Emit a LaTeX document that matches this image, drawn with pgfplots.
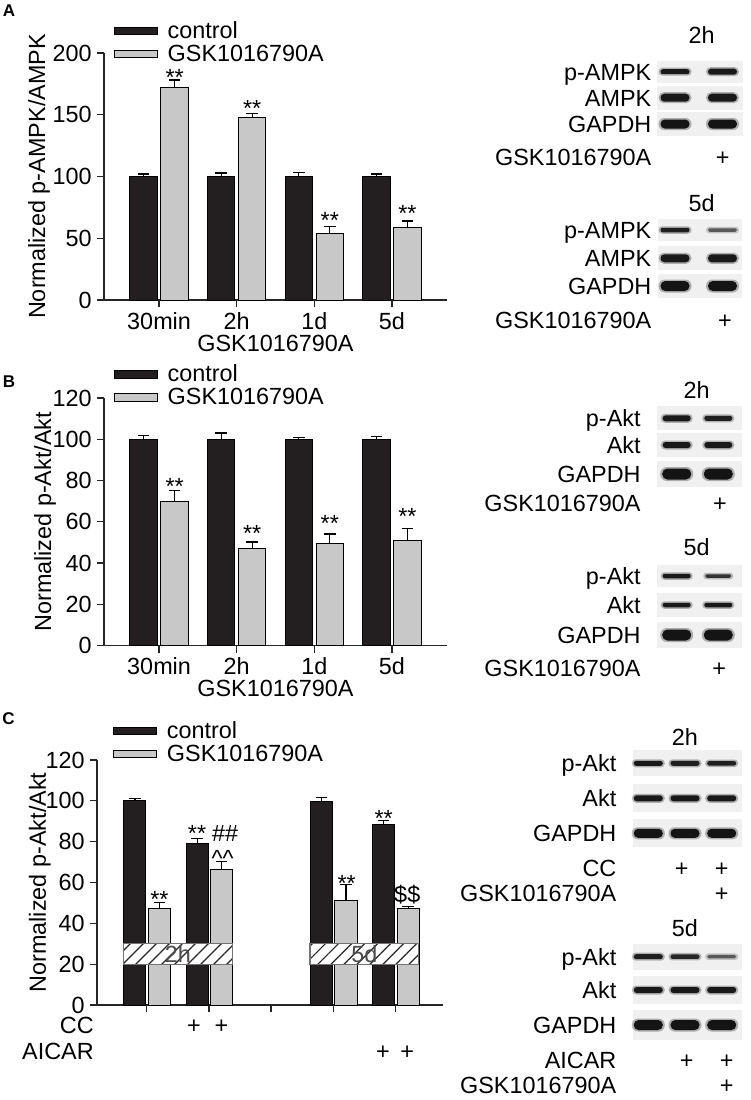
\documentclass[border=0pt]{standalone}
\usepackage{pgfplots}
\pgfplotsset{compat=1.18}
\usepackage{fontspec}
\setmainfont{Liberation Sans}
\usetikzlibrary{patterns.meta}
\definecolor{ctl}{RGB}{35,31,32}
\definecolor{gsk}{RGB}{200,200,200}
\definecolor{blotbg}{RGB}{240,240,240}
\newcommand\fs{\fontsize{11.7}{14}\selectfont}
\newcommand\band[5]{%
  \pgfmathsetmacro\rA{(#4+3)*0.24}%
  \pgfmathsetmacro\rB{#4*0.24}%
  \fill[#5, opacity=0.3, rounded corners=\rA pt] ({#1-#3/2-2},{#2-#4/2-1.5}) rectangle ({#1+#3/2+2},{#2+#4/2+1.5});
  \fill[#5, rounded corners=\rB pt] ({#1-#3/2},{#2-#4/2}) rectangle ({#1+#3/2},{#2+#4/2});
}
\newcommand\rlab[3]{\node[anchor=base east, inner sep=0pt] at (#1,{#2+8.4}) {#3};}
\newcommand\clab[3]{\node[anchor=base, inner sep=0pt] at (#1,{#2+8.4}) {#3};}
\newcommand\bg[4]{\fill[blotbg] (#1,{#3-#4/2}) rectangle (#2,{#3+#4/2});}
\pgfplotsset{
  panel/.style={
    scale only axis, anchor=south west,
    axis x line*=bottom, axis y line*=left,
    axis line style={line width=0.65pt, black!85},
    tick style={line width=0.65pt, black!85},
    tick align=outside, major tick length=3.5pt,
    /pgf/number format/assume math mode=true,
    ticklabel style={font=\fs},
    yticklabel style={inner sep=0pt, xshift=-2.5pt},
    xticklabel style={inner sep=0pt, yshift=-2.35pt},
    label style={font=\fs},
    clip=false,
    legend cell align=left,
    legend image code/.code={\draw[line width=0.5pt, draw=black, ##1] (0pt,1.9pt) rectangle (21.5pt,5.6pt);},
    legend style={draw=none, fill=none, inner sep=0pt, outer sep=0pt, anchor=north west, row sep=2.9pt, font=\fs,
      nodes={inner sep=0pt, text height=8.6pt, text depth=0pt, anchor=base west},
      /tikz/every odd column/.append style={column sep=4.85pt}},
  },
  cbar/.style={ybar, bar width=0.355, bar shift=0pt, fill=ctl, draw=black, line width=0.5pt, forget plot,
    error bars/y dir=plus, error bars/y explicit,
    error bars/error bar style={line width=0.6pt, black},
    error bars/error mark options={rotate=90, mark size=2.9pt, line width=0.6pt, black}},
  gbar/.style={cbar, fill=gsk},
}
\tikzset{
  ast/.style={font=\fs, anchor=base, yshift=-6.5pt, inner sep=0pt},
  hsh/.style={font=\fs, anchor=base, yshift=-4.1pt, inner sep=0pt},
  crt/.style={font=\fs, anchor=base, yshift=-6pt, inner sep=0pt},
  plet/.style={font=\fontsize{8.5}{10}\selectfont\bfseries, anchor=center, inner sep=0pt},
  hatchbox/.style={pattern={Lines[angle=45,distance=4.6pt,line width=0.6pt]}, pattern color=black!85},
}
\begin{document}
\begin{tikzpicture}[font=\fs]
\path[use as bounding box] (0,0) rectangle (375.5pt,-550pt);

% ---------------- Panel A ----------------
\begin{axis}[panel, at={(52pt,-150pt)}, width=171.5pt, height=123.5pt,
  xmin=0.29, xmax=4.71, ymin=0, ymax=200, ytick={0,50,...,200},
  xtick={1,2,3,4}, xticklabels={30min,2h,1d,5d},
  xlabel={GSK1016790A}, xlabel style={at={(axis description cs:0.5,-0.209)}, anchor=base, inner sep=0pt},
  ylabel={Normalized p-AMPK/AMPK}, ylabel style={at={(axis description cs:-0.172,0.5)}, anchor=base, inner sep=0pt},
  legend style={at={(axis description cs:0.0292,1.129)}}]
\addlegendimage{fill=ctl}\addlegendentry{control}
\addlegendimage{fill=gsk}\addlegendentry{GSK1016790A}
\addplot[cbar] coordinates {(0.8,100) +- (0,2) (1.8,100) +- (0,2.8) (2.8,100) +- (0,3.4) (3.8,100) +- (0,2)};
\addplot[gbar] coordinates {(1.2,172.2) +- (0,6) (2.2,147.9) +- (0,3.3) (3.2,54) +- (0,5.4) (4.2,58.9) +- (0,5.1)};
\node[ast] at (axis cs:1.2,184) {**};
\node[ast] at (axis cs:2.2,159.3) {**};
\node[ast] at (axis cs:3.2,68.8) {**};
\node[ast] at (axis cs:4.2,73.7) {**};
\end{axis}

% ---------------- Panel B ----------------
\begin{axis}[panel, at={(52pt,-322.75pt)}, width=171.5pt, height=123.75pt,
  xmin=0.29, xmax=4.71, ymin=0, ymax=120, ytick={0,20,...,120},
  xtick={1,2,3,4}, xticklabels={30min,2h,1d,5d},
  xlabel={GSK1016790A}, xlabel style={at={(axis description cs:0.5,-0.207)}, anchor=base, inner sep=0pt},
  ylabel={Normalized p-Akt/Akt}, ylabel style={at={(axis description cs:-0.1545,0.5)}, anchor=base, inner sep=0pt},
  legend style={at={(axis description cs:0.0292,1.135)}}]
\addlegendimage{fill=ctl}\addlegendentry{control}
\addlegendimage{fill=gsk}\addlegendentry{GSK1016790A}
\addplot[cbar] coordinates {(0.8,100) +- (0,2) (1.8,100) +- (0,3) (2.8,100) +- (0,1) (3.8,100) +- (0,1.5)};
\addplot[gbar] coordinates {(1.2,69.6) +- (0,5.4) (2.2,47) +- (0,3.2) (3.2,49.3) +- (0,4.8) (4.2,51) +- (0,5.7)};
\node[ast] at (axis cs:1.2,79.4) {**};
\node[ast] at (axis cs:2.2,56.7) {**};
\node[ast] at (axis cs:3.2,61.6) {**};
\node[ast] at (axis cs:4.2,64.8) {**};
\end{axis}

% ---------------- Panel C ----------------
\begin{axis}[panel, at={(48.5pt,-502.5pt)}, width=172.85pt, height=122.5pt,
  xmin=0.2, xmax=5.76, ymin=0, ymax=120, ytick={0,20,...,120},
  xtick={1,2,3,4,5}, xticklabels={},
  ylabel={Normalized p-Akt/Akt}, ylabel style={at={(axis description cs:-0.148,0.5)}, anchor=base, inner sep=0pt},
  legend style={at={(axis description cs:0.047,1.159)}}]
\addlegendimage{fill=ctl}\addlegendentry{control}
\addlegendimage{fill=gsk}\addlegendentry{GSK1016790A}
\addplot[cbar] coordinates {(0.81,100) +- (0,1.1) (1.81,78.9) +- (0,2.7) (3.81,99.6) +- (0,2) (4.81,88.3) +- (0,2.1)};
\addplot[gbar] coordinates {(1.205,47.2) +- (0,3.2) (2.205,66.5) +- (0,3.6) (4.205,51.2) +- (0,7.7) (5.205,47.2) +- (0,1.1)};
% hatched time boxes
\fill[white] (axis cs:0.625,20) rectangle (axis cs:2.375,30);
\fill[hatchbox] (axis cs:0.625,20) rectangle (axis cs:2.375,30);
\draw[black!55, line width=0.55pt] (axis cs:0.625,20) rectangle (axis cs:2.375,30);
\node[anchor=base, inner sep=0pt, text=black!70, yshift=-4.2pt] at (axis cs:1.5,25) {2h};
\fill[white] (axis cs:3.625,20) rectangle (axis cs:5.375,30);
\fill[hatchbox] (axis cs:3.625,20) rectangle (axis cs:5.375,30);
\draw[black!55, line width=0.55pt] (axis cs:3.625,20) rectangle (axis cs:5.375,30);
\node[anchor=base, inner sep=0pt, text=black!70, yshift=-4.2pt] at (axis cs:4.5,25) {5d};
\node[ast] at (axis cs:1.205,53.9) {**};
\node[ast] at (axis cs:1.81,86.5) {**};
\node[hsh] at (axis cs:2.26,84) {\#\#};
\node[crt] at (axis cs:2.22,73.6) {\textasciicircum\textasciicircum};
\node[ast] at (axis cs:4.215,62) {**};
\node[ast] at (axis cs:4.81,93.9) {**};
\node[hsh] at (axis cs:5.19,54.4) {\$\$};
% treatment rows
\node[anchor=base east, inner sep=0pt] at (axis cs:0.153,-13.9) {CC};
\node[anchor=base east, inner sep=0pt] at (axis cs:0.153,-26.9) {AICAR};
\node[anchor=base, inner sep=0pt] at (axis cs:1.76,-13.9) {+};
\node[anchor=base, inner sep=0pt] at (axis cs:2.2,-13.9) {+};
\node[anchor=base, inner sep=0pt] at (axis cs:4.8,-26.9) {+};
\node[anchor=base, inner sep=0pt] at (axis cs:5.19,-26.9) {+};
\end{axis}

% ---------------- Panel letters & blots ----------------
\begin{scope}[x=0.5pt, y=-0.5pt]
\node[plet] at (9,11) {A};
\node[plet] at (9,381.7) {B};
\node[plet] at (8.5,718.3) {C};

% A blots
\clab{701.7}{35}{2h}
\bg{656.7}{743.3}{71.7}{22}\bg{656.7}{743.3}{97.7}{24}\bg{656.7}{743.3}{124}{24}
\band{675}{71.7}{29}{5}{black!90}\band{722.5}{71.7}{29}{6}{black!90}
\band{675}{97.7}{29}{8}{black!90}\band{722.5}{97.7}{29}{8}{black!90}
\band{675}{124}{29}{9}{black!92}\band{722.5}{124}{29}{9}{black!92}
\rlab{651.7}{71.7}{p-AMPK}\rlab{651.7}{97.7}{AMPK}\rlab{651.7}{124}{GAPDH}
\rlab{651.7}{156.7}{GSK1016790A}\clab{722.7}{156.7}{+}
\clab{701.7}{203.3}{5d}
\bg{658}{742}{230}{22}\bg{658}{742}{258.3}{24}\bg{658}{742}{286}{24}
\band{675}{230}{29}{4.5}{black!88}\band{722.5}{230}{29}{3.5}{black!65}
\band{675}{258.3}{29}{8}{black!90}\band{722.5}{258.3}{29}{8}{black!90}
\band{675}{286}{29}{10}{black!92}\band{722.5}{286}{29}{10}{black!92}
\rlab{651.7}{230}{p-AMPK}\rlab{651.7}{258.3}{AMPK}\rlab{651.7}{286}{GAPDH}
\rlab{651.7}{320}{GSK1016790A}\clab{725}{320}{+}

% B blots
\clab{696.7}{390}{2h}
\bg{656.7}{741.7}{418.3}{24}\bg{656.7}{741.7}{445}{24}\bg{656.7}{741.7}{474}{26}
\band{676.7}{418.3}{28}{6}{black!90}\band{718.3}{418.3}{28}{5}{black!88}
\band{676.7}{445}{28}{6}{black!90}\band{718.3}{445}{28}{6}{black!90}
\band{676.7}{474}{29}{11}{black!92}\band{718.3}{474}{29}{11}{black!92}
\rlab{641}{418.3}{p-Akt}\rlab{641}{445}{Akt}\rlab{641}{474}{GAPDH}
\rlab{641}{503.3}{GSK1016790A}\clab{720}{503.3}{+}
\clab{696.7}{547.3}{5d}
\bg{656.7}{741.7}{576}{22}\bg{656.7}{741.7}{605}{24}\bg{656.7}{741.7}{635}{26}
\band{676.7}{576}{28}{4.5}{black!90}\band{718.3}{576}{26}{3.5}{black!80}
\band{676.7}{605}{28}{4.5}{black!90}\band{718.3}{605}{28}{4.5}{black!90}
\band{676.7}{635}{29}{11}{black!92}\band{718.3}{635}{29}{11}{black!92}
\rlab{641}{576}{p-Akt}\rlab{641}{605}{Akt}\rlab{641}{635}{GAPDH}
\rlab{641}{668.3}{GSK1016790A}\clab{719.3}{668.3}{+}

% C blots
\clab{685}{736.7}{2h}
\bg{633.3}{741.7}{763.3}{26}\bg{633.3}{741.7}{798.3}{28}\bg{633.3}{741.7}{833.3}{28}
\band{648.3}{763.3}{29}{5}{black!90}\band{685}{763.3}{29}{5}{black!88}\band{721.7}{763.3}{29}{4.5}{black!88}
\band{648.3}{798.3}{29}{6}{black!90}\band{685}{798.3}{29}{6}{black!90}\band{721.7}{798.3}{29}{6}{black!90}
\band{648.3}{833.3}{29}{9}{black!92}\band{685}{833.3}{29}{9}{black!92}\band{721.7}{833.3}{29}{9}{black!92}
\rlab{616.7}{763.3}{p-Akt}\rlab{616.7}{798.3}{Akt}\rlab{616.7}{833.3}{GAPDH}
\rlab{616.7}{868.3}{CC}\clab{681.7}{868.3}{+}\clab{721.7}{868.3}{+}
\rlab{616.7}{893.3}{GSK1016790A}\clab{721.7}{893.3}{+}
\clab{685}{928.3}{5d}
\bg{633.3}{741.7}{956.7}{26}\bg{633.3}{741.7}{990}{28}\bg{633.3}{741.7}{1025}{30}
\band{648.3}{956.7}{29}{5}{black!88}\band{685}{956.7}{29}{4.5}{black!85}\band{721.7}{956.7}{29}{3.5}{black!65}
\band{648.3}{990}{29}{6}{black!90}\band{685}{990}{29}{6}{black!90}\band{721.7}{990}{29}{6}{black!90}
\band{648.3}{1025}{29}{10}{black!92}\band{685}{1025}{29}{10}{black!92}\band{721.7}{1025}{29}{10}{black!92}
\rlab{616.7}{956.7}{p-Akt}\rlab{616.7}{990}{Akt}\rlab{616.7}{1025}{GAPDH}
\rlab{616.7}{1060}{AICAR}\clab{686.7}{1060}{+}\clab{726.7}{1060}{+}
\rlab{616.7}{1085}{GSK1016790A}\clab{726.7}{1085}{+}
\end{scope}
\end{tikzpicture}
\end{document}
